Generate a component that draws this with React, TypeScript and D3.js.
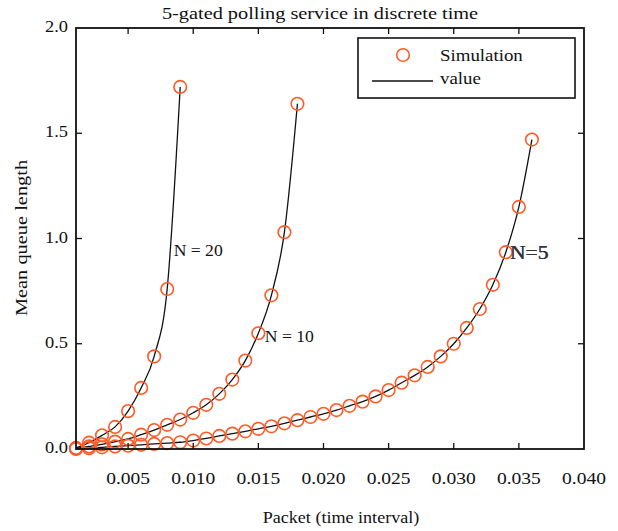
import React from "react";
import * as d3 from "d3";

const title = "5-gated polling service in discrete time";
const xLabel = "Packet (time interval)";
const yLabel = "Mean queue length";
const xTicks = [0.005, 0.01, 0.015, 0.02, 0.025, 0.03, 0.035, 0.04];
const yTicks = [0.0, 0.5, 1.0, 1.5, 2.0];

const xN20 = [0.001, 0.002, 0.003, 0.004, 0.005, 0.006, 0.007, 0.008, 0.009];
const yN20 = [0.005, 0.03, 0.065, 0.105, 0.18, 0.29, 0.44, 0.76, 1.72];

const xN10 = [0.001, 0.002, 0.003, 0.004, 0.005, 0.006, 0.007, 0.008, 0.009, 0.01, 0.011, 0.012, 0.013, 0.014, 0.015, 0.016, 0.017, 0.018];
const yN10 = [0.003, 0.012, 0.022, 0.035, 0.048, 0.068, 0.09, 0.115, 0.14, 0.172, 0.21, 0.262, 0.33, 0.42, 0.55, 0.73, 1.03, 1.64];

const xN5 = [0.001, 0.002, 0.003, 0.004, 0.005, 0.006, 0.007, 0.008, 0.009, 0.01, 0.011, 0.012, 0.013, 0.014, 0.015, 0.016, 0.017, 0.018, 0.019, 0.02, 0.021, 0.022, 0.023, 0.024, 0.025, 0.026, 0.027, 0.028, 0.029, 0.03, 0.031, 0.032, 0.033, 0.034, 0.035, 0.036];
const yN5 = [0.0, 0.004, 0.008, 0.012, 0.016, 0.02, 0.024, 0.028, 0.032, 0.04, 0.05, 0.062, 0.073, 0.084, 0.096, 0.108, 0.122, 0.137, 0.152, 0.167, 0.185, 0.205, 0.225, 0.25, 0.28, 0.315, 0.35, 0.39, 0.44, 0.5, 0.575, 0.665, 0.78, 0.935, 1.15, 1.47];

const seriesLabels = [
  { text: "N = 20", x: 0.0085, y: 0.94 },
  { text: "N = 10", x: 0.0155, y: 0.53 },
  { text: "N=5", x: 0.0343, y: 0.93 },
];

const W = 618, H = 531;
const L = 76, R = 584, T = 28, B = 449;
const FONT = "'Liberation Serif', 'Times New Roman', serif";
const ORANGE = "#ff5a26";

function T2({ x, y, children, anchor = "start", size = 15, sx = 1.2, fill = "#111" }: any) {
  return (
    <g transform={`translate(${x},${y}) scale(${sx},1)`}>
      <text textAnchor={anchor} fontSize={size} fontFamily={FONT} fill={fill}>
        {children}
      </text>
    </g>
  );
}

export default function App() {
  const x = d3.scaleLinear().domain([0.001, 0.04]).range([L, R]);
  const y = d3.scaleLinear().domain([0, 2]).range([B, T]);
  const line = d3
    .line<[number, number]>()
    .x((d) => x(d[0]))
    .y((d) => y(d[1]))
    .curve(d3.curveMonotoneX);

  const series = [
    xN20.map((v, i) => [v, yN20[i]] as [number, number]),
    xN10.map((v, i) => [v, yN10[i]] as [number, number]),
    xN5.map((v, i) => [v, yN5[i]] as [number, number]),
  ];
  const tick = 6;

  return (
    <svg width={W} height={H} style={{ position: "absolute", left: 0, top: 0, background: "#fff" }}>
      <rect x={0} y={0} width={W} height={H} fill="#fff" />
      {/* title */}
      <T2 x={320} y={19} anchor="middle" size={16} sx={1.27}>{title}</T2>

      {/* series lines */}
      {series.map((s, i) => (
        <path key={"l" + i} d={line(s) || ""} fill="none" stroke="#111" strokeWidth={1.3} />
      ))}
      {/* simulation circles */}
      {series.map((s, i) =>
        s.map((d, j) => (
          <circle key={`c${i}-${j}`} cx={x(d[0])} cy={y(d[1])} r={6.3} fill="none" stroke={ORANGE} strokeWidth={1.6} />
        ))
      )}

      {/* frame */}
      <rect x={L} y={T} width={R - L} height={B - T} fill="none" stroke="#111" strokeWidth={1.8} />

      {/* x ticks */}
      {xTicks.map((v) => (
        <g key={"xt" + v}>
          {v < 0.04 && <line x1={x(v)} x2={x(v)} y1={B} y2={B - tick} stroke="#111" strokeWidth={1.3} />}
          {v < 0.04 && <line x1={x(v)} x2={x(v)} y1={T} y2={T + tick} stroke="#111" strokeWidth={1.3} />}
          <T2 x={x(v)} y={484} anchor="middle" size={16} sx={1.22}>{d3.format(".3f")(v)}</T2>
        </g>
      ))}
      {/* y ticks */}
      {yTicks.map((v) => (
        <g key={"yt" + v}>
          {v > 0 && v < 2 && <line x1={L} x2={L + tick} y1={y(v)} y2={y(v)} stroke="#111" strokeWidth={1.3} />}
          {v > 0 && v < 2 && <line x1={R} x2={R - tick} y1={y(v)} y2={y(v)} stroke="#111" strokeWidth={1.3} />}
          <T2 x={68} y={y(v) + 4} anchor="end" size={16} sx={1.15}>{d3.format(".1f")(v)}</T2>
        </g>
      ))}

      {/* axis labels */}
      <T2 x={341} y={523} anchor="middle" size={16} sx={1.13}>{xLabel}</T2>
      <g transform={`translate(27,238) rotate(-90)`}>
        <text textAnchor="middle" fontSize={17} fontFamily={FONT} fill="#111" transform="scale(1.2,1)">{yLabel}</text>
      </g>

      {/* series labels */}
      {seriesLabels.map((s, i) =>
        i === 2 ? (
          <g key={"sl" + i}>
            <T2 x={x(s.x)} y={y(s.y) + 6} size={18} sx={1.2} fill="#2a3550">{s.text}</T2>
            <T2 x={x(s.x) + 0.5} y={y(s.y) + 6} size={18} sx={1.2} fill="#333">{s.text}</T2>
          </g>
        ) : (
          <T2 key={"sl" + i} x={x(s.x)} y={y(s.y) + 5} size={16} sx={1.1}>{s.text}</T2>
        )
      )}

      {/* legend */}
      <rect x={358} y={38} width={217} height={60} fill="#fff" stroke="#111" strokeWidth={1.6} />
      <circle cx={403} cy={55} r={6.3} fill="none" stroke={ORANGE} strokeWidth={1.6} />
      <T2 x={440} y={61} size={16} sx={1.18}>Simulation</T2>
      <line x1={372} x2={433} y1={81} y2={81} stroke="#111" strokeWidth={1.5} />
      <T2 x={440} y={84} size={16} sx={1.18}>value</T2>
    </svg>
  );
}
